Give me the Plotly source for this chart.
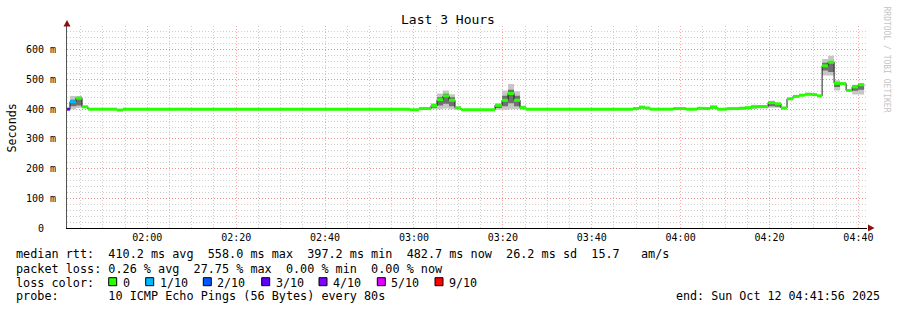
import plotly.graph_objects as go

DAY = "2025-10-12 "

# ---------------- data ----------------
step_start = ["01:41:56", "01:42:36", "01:43:57", "01:45:19", "01:46:39", "01:53:11", "01:54:32",
              "02:06:28", "02:09:10", "02:59:07", "03:01:08", "03:03:50", "03:05:11", "03:06:32",
              "03:07:53", "03:09:14", "03:10:35", "03:18:14", "03:19:49", "03:21:10", "03:22:31",
              "03:23:52", "03:25:13", "03:49:18", "03:50:38", "03:52:00", "03:53:08", "03:58:20",
              "04:01:14", "04:03:44", "04:05:04", "04:06:38", "04:08:12", "04:10:27", "04:13:09",
              "04:14:30", "04:15:51", "04:17:12", "04:19:41", "04:21:14", "04:22:35", "04:23:56",
              "04:25:17", "04:26:38", "04:27:59", "04:29:33", "04:30:41", "04:31:50", "04:33:11",
              "04:34:32", "04:35:53", "04:37:14", "04:38:35", "04:39:56"]
data_end = "04:41:17"

median_ms = [400, 425, 437, 408, 400, 397, 400, 400, 400, 398, 402, 412, 432, 445, 430, 404, 398,
             413, 430, 453, 430, 405, 400, 402, 407, 404, 400, 402, 400, 403, 402, 406, 400, 402,
             403, 405, 408, 409, 422, 418, 404, 435, 443, 447, 450, 449, 445, 546, 558, 487, 486,
             463, 475, 482]

loss_idx = [3, 1] + [0] * 52

smoke_lo = [400, 400, 404, 404, 400, 397, 400, 400, 400, 398, 400, 400, 400, 402, 400, 400, 398,
            398, 398, 400, 400, 400, 400, 400, 400, 400, 400, 400, 400, 400, 400, 400, 400, 400,
            400, 400, 400, 402, 405, 405, 400, 432, 441, 445, 447, 447, 443, 513, 513, 463, 482,
            460, 449, 449]
smoke_hi = [400, 444, 444, 411, 400, 397, 400, 404, 400, 398, 407, 420, 453, 463, 450, 410, 398,
            420, 463, 485, 460, 412, 400, 406, 411, 406, 400, 403, 400, 404, 407, 414, 400, 403,
            408, 408, 415, 412, 428, 422, 406, 438, 446, 449, 455, 451, 447, 569, 580, 497, 490,
            468, 482, 488]
core_lo = [400, 410, 412, 406, 400, 397, 400, 400, 400, 398, 401, 405, 412, 418, 410, 402, 398,
           404, 410, 420, 410, 402, 400, 401, 403, 402, 400, 401, 400, 401, 401, 402, 400, 401,
           401, 402, 404, 404, 410, 408, 402, 434, 442, 446, 448, 448, 444, 530, 525, 475, 484,
           462, 462, 465]
core_hi = [400, 432, 438, 409, 400, 397, 400, 401, 400, 398, 404, 416, 440, 452, 440, 406, 398,
           416, 445, 465, 445, 408, 400, 403, 408, 405, 400, 402, 400, 403, 404, 408, 400, 402,
           405, 406, 410, 410, 424, 420, 405, 436, 444, 448, 452, 450, 446, 556, 562, 490, 488,
           465, 480, 485]

y_tick_vals = [0, 100, 200, 300, 400, 500, 600]
y_tick_text = ["0", "100 m", "200 m", "300 m", "400 m", "500 m", "600 m"]

loss_labels = ["0", "1/10", "2/10", "3/10", "4/10", "5/10", "9/10"]
loss_colors = ["#26ff00", "#00b8ff", "#0059ff", "#5e00ff", "#7e00ff", "#dd00ff", "#ff0000"]

legend_rows = [
    "median rtt:  410.2 ms avg  558.0 ms max  397.2 ms min  482.7 ms now  26.2 ms sd  15.7   am/s",
    "packet loss: 0.26 % avg  27.75 % max  0.00 % min  0.00 % now",
    "loss color:",
    "probe:       10 ICMP Echo Pings (56 Bytes) every 80s",
]
end_text = "end: Sun Oct 12 04:41:56 2025"
title_text = "Last 3 Hours"
y_title = "Seconds"
watermark = "RRDTOOL / TOBI OETIKER"

# ---------------- layout constants ----------------
W, H = 897, 310
L, R, T, B = 67, 30, 26, 82
PW, PH = W - L - R, H - T - B
MONO = "DejaVu Sans Mono"


def px(x):
    return (x - L) / PW


def py(y):
    return (H - B - y) / PH


def nb(s):
    return s.replace(" ", "\u00a0")


t = [DAY + s for s in step_start] + [DAY + data_end]


def ext(v):
    return list(v) + [v[-1]]


fig = go.Figure()

# smoke (outer)
fig.add_trace(go.Scatter(x=t, y=ext(smoke_lo), mode="lines", line=dict(width=0, shape="hv"),
                         hoverinfo="skip", showlegend=False))
fig.add_trace(go.Scatter(x=t, y=ext(smoke_hi), mode="lines", line=dict(width=0, shape="hv"),
                         fill="tonexty", fillcolor="#c6c6c6", hoverinfo="skip", showlegend=False))
# smoke (core)
fig.add_trace(go.Scatter(x=t, y=ext(core_lo), mode="lines", line=dict(width=0, shape="hv"),
                         hoverinfo="skip", showlegend=False))
fig.add_trace(go.Scatter(x=t, y=ext(core_hi), mode="lines", line=dict(width=0, shape="hv"),
                         fill="tonexty", fillcolor="#707070", hoverinfo="skip", showlegend=False))
# median thin black step line
fig.add_trace(go.Scatter(x=t, y=ext(median_ms), mode="lines", line=dict(width=1, shape="hv", color="#202020"),
                         hoverinfo="skip", showlegend=False))
# colored median segments by loss
for k, col in enumerate(loss_colors):
    xs, ys = [], []
    for i, li in enumerate(loss_idx):
        if li == k:
            xs += [t[i], t[i + 1], None]
            ys += [median_ms[i], median_ms[i], None]
    if xs:
        fig.add_trace(go.Scatter(x=xs, y=ys, mode="lines", line=dict(width=3, color=col),
                                 hoverinfo="skip", showlegend=False))

fig.update_layout(
    width=W, height=H, margin=dict(l=L, r=R, t=T, b=B, autoexpand=False),
    paper_bgcolor="white", plot_bgcolor="white", showlegend=False,
    title=dict(text=title_text, x=448 / W, xanchor="center", y=1 - 19 / H, yanchor="middle",
               font=dict(family=MONO, size=13, color="#000")),
    font=dict(family=MONO, color="#000"),
)

GRID_MAJ = "rgba(255,80,80,0.5)"
GRID_MIN = "#cfcfcf"
DASH = "1px,2px"

fig.update_xaxes(
    type="date", range=[DAY + "01:41:56", DAY + "04:41:56"],
    tickformat="%H:%M", tick0=DAY + "00:00:00", dtick=20 * 60 * 1000,
    showgrid=True, gridcolor=GRID_MAJ, griddash=DASH, gridwidth=1,
    minor=dict(tick0=DAY + "00:00:00", dtick=5 * 60 * 1000, showgrid=True,
               gridcolor=GRID_MIN, griddash=DASH, gridwidth=1),
    showline=True, linecolor="#000", linewidth=1, zeroline=False, ticks="",
    ticklabelstandoff=0, tickfont=dict(family=MONO, size=10, color="#000"), fixedrange=True,
)
fig.update_yaxes(
    range=[0, 680], tickmode="array", tickvals=y_tick_vals,
    ticktext=[nb(s if " " in s else s + "  ") for s in y_tick_text],
    showgrid=True, gridcolor=GRID_MAJ, griddash=DASH, gridwidth=1,
    minor=dict(dtick=20, showgrid=True, gridcolor=GRID_MIN, griddash=DASH, gridwidth=1),
    showline=True, linecolor="#555", linewidth=1, zeroline=False, ticks="",
    ticklabelstandoff=8, tickfont=dict(family=MONO, size=10, color="#000"), fixedrange=True,
)

shapes = []
# axis arrows
shapes.append(dict(type="path", xref="paper", yref="paper",
                   path=f"M {px(63.5)} {py(26.5)} L {px(70.5)} {py(26.5)} L {px(67)} {py(20)} Z",
                   fillcolor="#8b1010", line=dict(width=0)))
shapes.append(dict(type="path", xref="paper", yref="paper",
                   path=f"M {px(868)} {py(224.5)} L {px(868)} {py(231.5)} L {px(874.5)} {py(228)} Z",
                   fillcolor="#8b1010", line=dict(width=0)))

annotations = []
row_y = [254.5, 268.5, 282.5, 296.0]
for txt, yy in zip(legend_rows, row_y):
    annotations.append(dict(text=nb(txt), xref="paper", yref="paper", x=px(13.5), y=py(yy),
                            xanchor="left", yanchor="middle", showarrow=False,
                            font=dict(family=MONO, size=11.8, color="#000")))
annotations.append(dict(text=nb(end_text), xref="paper", yref="paper", x=px(882), y=py(row_y[3]),
                        xanchor="right", yanchor="middle", showarrow=False,
                        font=dict(family=MONO, size=11.7, color="#000")))

sq_px = [108.7, 145.7, 203.3, 261.7, 319.0, 377.3, 435.0]
for sx, lab, col in zip(sq_px, loss_labels, loss_colors):
    shapes.append(dict(type="rect", xref="paper", yref="paper",
                       x0=px(sx), x1=px(sx + 8), y0=py(285.7), y1=py(277.7),
                       fillcolor=col, line=dict(color="#000", width=1)))
    annotations.append(dict(text=nb(lab), xref="paper", yref="paper", x=px(sx + 12), y=py(row_y[2]),
                            xanchor="left", yanchor="middle", showarrow=False,
                            font=dict(family=MONO, size=11.7, color="#000")))

annotations.append(dict(text=y_title, xref="paper", yref="paper", x=px(11), y=py(127.5),
                        xanchor="center", yanchor="middle", textangle=-90, showarrow=False,
                        font=dict(family=MONO, size=11.7, color="#000")))
annotations.append(dict(text=nb(watermark), xref="paper", yref="paper", x=px(886.5), y=py(59),
                        xanchor="center", yanchor="middle", textangle=90, showarrow=False,
                        font=dict(family=MONO, size=8, color="#c4c4c4")))

fig.update_layout(shapes=shapes, annotations=annotations)

fig.write_html("out.html")
